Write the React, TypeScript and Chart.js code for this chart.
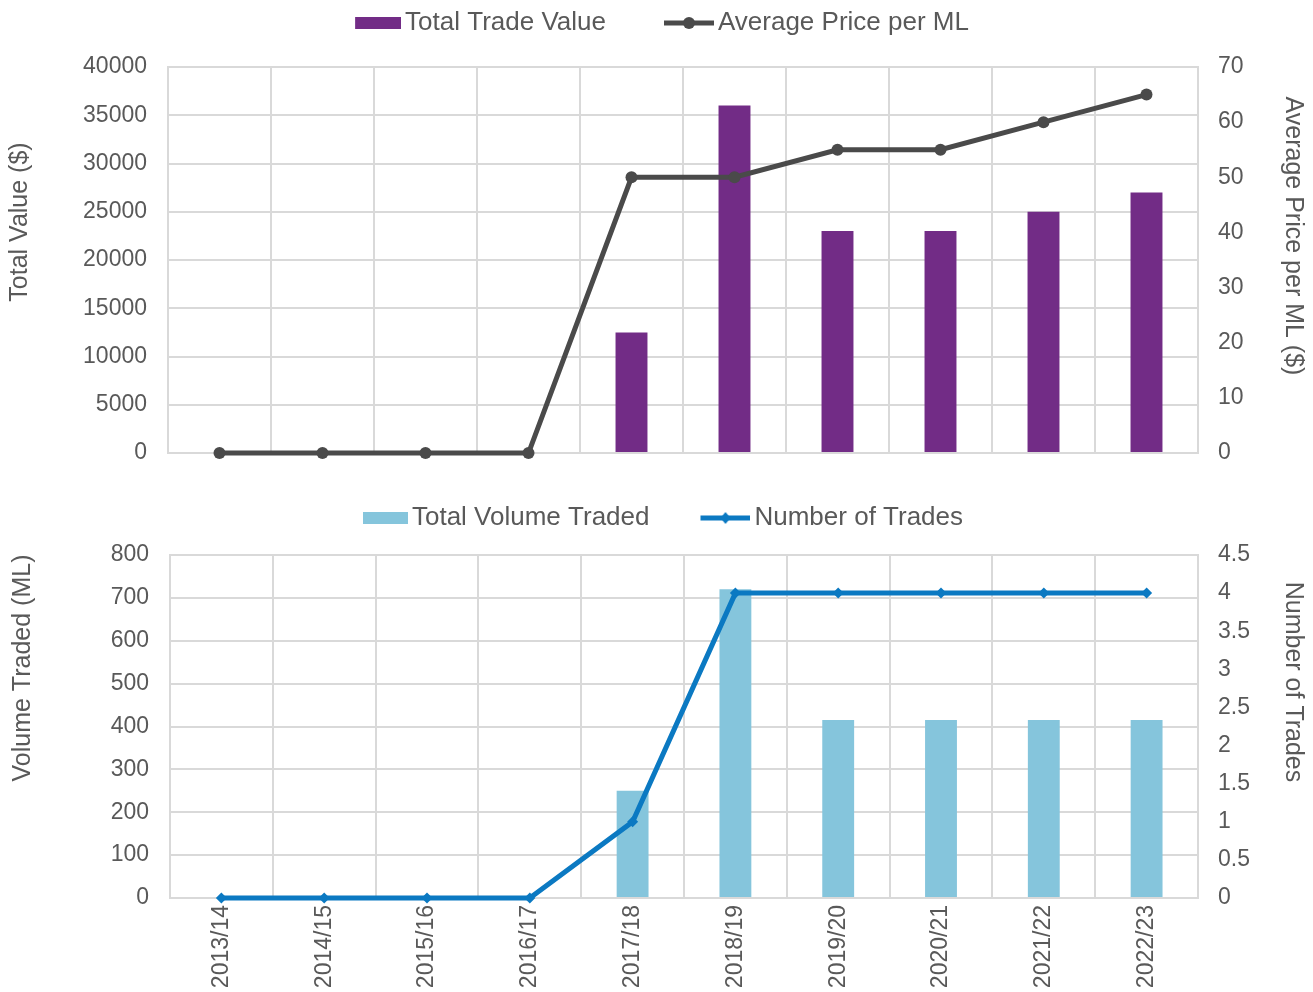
import React, { useEffect, useRef } from 'react';
import { Chart, registerables } from 'chart.js';

Chart.register(...registerables);

// ---------- data ----------
const seasons = ['2013/14', '2014/15', '2015/16', '2016/17', '2017/18', '2018/19', '2019/20', '2020/21', '2021/22', '2022/23'];
const totalTradeValue = [0, 0, 0, 0, 12500, 36000, 23000, 23000, 25000, 27000];
const avgPricePerML = [0, 0, 0, 0, 50, 50, 55, 55, 60, 65];
const totalVolumeTraded = [0, 0, 0, 0, 250, 720, 415, 415, 415, 415];
const numberOfTrades = [0, 0, 0, 0, 1, 4, 4, 4, 4, 4];

const valueTicks = { min: 0, max: 40000, step: 5000 };
const priceTicks = { min: 0, max: 70, step: 10 };
const volumeTicks = { min: 0, max: 800, step: 100 };
const tradesTicks = { min: 0, max: 4.5, step: 0.5 };

const topLegendLabels = ['Total Trade Value', 'Average Price per ML'];
const bottomLegendLabels = ['Total Volume Traded', 'Number of Trades'];
const topAxisTitles = ['Total Value ($)', 'Average Price per ML ($)'];
const bottomAxisTitles = ['Volume Traded (ML)', 'Number of Trades'];

// ---------- style ----------
const FONT = '"Liberation Sans", Arial, Helvetica, sans-serif';
const TEXT = '#595959';
const GRID = '#d9d9d9';
const PURPLE = '#722c86';
const DARK = '#4a4a4a';
const LIGHTBLUE = '#85c5dc';
const BLUE = '#0b79c2';

const W = 1313;
const TOP_H = 480;
const BOT_H = 512;

function makeSwatch(kind: 'bar' | 'line', color: string, B: number, sw: number, marker?: 'circle' | 'diamond') {
  const w = B + 18;
  const h = 26;
  const c = document.createElement('canvas');
  c.width = w;
  c.height = h;
  const g = c.getContext('2d')!;
  g.fillStyle = color;
  g.strokeStyle = color;
  if (kind === 'bar') {
    g.fillRect(w - sw, (h - 12) / 2, sw, 12);
  } else {
    g.lineWidth = 5;
    g.beginPath();
    g.moveTo(w - sw, h / 2);
    g.lineTo(w, h / 2);
    g.stroke();
    const cx = w - sw / 2;
    const cy = h / 2;
    g.beginPath();
    if (marker === 'circle') {
      g.arc(cx, cy, 6, 0, Math.PI * 2);
    } else {
      g.moveTo(cx, cy - 6);
      g.lineTo(cx + 5, cy);
      g.lineTo(cx, cy + 6);
      g.lineTo(cx - 5, cy);
      g.closePath();
    }
    g.fill();
  }
  return c;
}

const axisTitlePlugin = {
  id: 'axisTitles',
  afterDraw(chart: any, _args: any, opts: any) {
    const ctx = chart.ctx;
    const items = (opts && opts.items) || [];
    for (const t of items) {
      ctx.save();
      ctx.translate(t.x, t.y);
      ctx.rotate(t.rot);
      ctx.font = `25px ${FONT}`;
      ctx.fillStyle = TEXT;
      ctx.textAlign = 'center';
      ctx.textBaseline = 'middle';
      ctx.fillText(t.text, 0, 0);
      ctx.restore();
    }
  },
};

const tickFont = { family: FONT, size: 23 };
const fmt = (v: any) => String(v);

function legendOpts(swatches: HTMLCanvasElement[], B: number) {
  return {
    display: true,
    position: 'top' as const,
    align: 'center' as const,
    labels: {
      usePointStyle: true,
      pointStyleWidth: B,
      padding: 8,
      color: TEXT,
      font: { family: FONT, size: 26 },
      generateLabels: (chart: any) =>
        chart.data.datasets.map((ds: any, i: number) => ({
          text: ds.label,
          pointStyle: swatches[i],
          fillStyle: 'transparent',
          strokeStyle: 'transparent',
          lineWidth: 0,
          hidden: false,
          datasetIndex: i,
          fontColor: TEXT,
        })),
    },
  };
}

const noOverhang = (width: number) => (s: any) => {
  s.width = width;
  s.paddingTop = 0;
  s.paddingBottom = 0;
};

export default function App() {
  const topRef = useRef<HTMLCanvasElement>(null);
  const botRef = useRef<HTMLCanvasElement>(null);

  useEffect(() => {
    const topB = 91;
    const botB = 84;
    const topSw = [makeSwatch('bar', PURPLE, topB, 46), makeSwatch('line', DARK, topB, 50, 'circle')];
    const botSw = [makeSwatch('bar', LIGHTBLUE, botB, 45), makeSwatch('line', BLUE, botB, 50, 'diamond')];

    const top = new Chart(topRef.current!, {
      type: 'bar',
      data: {
        labels: seasons,
        datasets: [
          {
            type: 'bar',
            label: topLegendLabels[0],
            data: totalTradeValue,
            backgroundColor: PURPLE,
            yAxisID: 'y',
            order: 2,
            barPercentage: 0.31,
            categoryPercentage: 1,
          },
          {
            type: 'line',
            label: topLegendLabels[1],
            data: avgPricePerML,
            borderColor: DARK,
            backgroundColor: DARK,
            borderWidth: 5,
            pointRadius: 6,
            pointStyle: 'circle',
            pointBackgroundColor: DARK,
            pointBorderWidth: 0,
            tension: 0,
            yAxisID: 'y1',
            order: 1,
            clip: false,
          } as any,
        ],
      },
      options: {
        responsive: false,
        animation: false,
        events: [],
        layout: { padding: { top: 2, left: 0, right: 43, bottom: 0 } },
        plugins: {
          legend: legendOpts(topSw, topB) as any,
          tooltip: { enabled: false },
          axisTitles: {
            items: [
              { text: topAxisTitles[0], x: 20, y: 222, rot: -Math.PI / 2 },
              { text: topAxisTitles[1], x: 1293, y: 236, rot: Math.PI / 2 },
            ],
          },
        } as any,
        scales: {
          x: {
            type: 'category',
            position: 'bottom',
            offset: true,
            grid: { color: GRID, lineWidth: 2, drawTicks: false, offset: true },
            border: { color: GRID, width: 2 },
            ticks: { display: false },
            afterFit: (s: any) => { s.height = 27; },
          },
          spacer: {
            type: 'category',
            position: 'top',
            display: true,
            grid: { display: false, drawTicks: false },
            border: { display: false },
            ticks: { display: false },
            afterFit: (s: any) => { s.height = 21; },
          },
          y: {
            type: 'linear',
            position: 'left',
            min: valueTicks.min,
            max: valueTicks.max,
            ticks: { stepSize: valueTicks.step, color: TEXT, font: tickFont, padding: 21, callback: fmt },
            grid: { color: GRID, lineWidth: 2, drawTicks: false },
            border: { color: GRID, width: 2 },
            afterFit: noOverhang(168),
          },
          y1: {
            type: 'linear',
            position: 'right',
            min: priceTicks.min,
            max: priceTicks.max,
            ticks: { stepSize: priceTicks.step, color: TEXT, font: tickFont, padding: 20, callback: fmt },
            grid: { drawOnChartArea: false, drawTicks: false },
            border: { color: GRID, width: 2 },
            afterFit: noOverhang(72),
          },
        } as any,
      },
      plugins: [axisTitlePlugin as any],
    });

    const bot = new Chart(botRef.current!, {
      type: 'bar',
      data: {
        labels: seasons,
        datasets: [
          {
            type: 'bar',
            label: bottomLegendLabels[0],
            data: totalVolumeTraded,
            backgroundColor: LIGHTBLUE,
            yAxisID: 'y',
            order: 2,
            barPercentage: 0.31,
            categoryPercentage: 1,
          },
          {
            type: 'line',
            label: bottomLegendLabels[1],
            data: numberOfTrades,
            borderColor: BLUE,
            backgroundColor: BLUE,
            borderWidth: 5,
            pointRadius: 5.5,
            pointStyle: 'rectRot',
            pointBackgroundColor: BLUE,
            pointBorderWidth: 0,
            tension: 0,
            yAxisID: 'y1',
            order: 1,
            clip: false,
          } as any,
        ],
      },
      options: {
        responsive: false,
        animation: false,
        events: [],
        layout: { padding: { top: 17, left: 0, right: 35, bottom: 0 } },
        plugins: {
          legend: legendOpts(botSw, botB) as any,
          tooltip: { enabled: false },
          axisTitles: {
            items: [
              { text: bottomAxisTitles[0], x: 23, y: 188, rot: -Math.PI / 2 },
              { text: bottomAxisTitles[1], x: 1293, y: 202, rot: Math.PI / 2 },
            ],
          },
        } as any,
        scales: {
          x: {
            type: 'category',
            position: 'bottom',
            offset: true,
            grid: { color: GRID, lineWidth: 2, drawTicks: false, offset: true },
            border: { color: GRID, width: 2 },
            ticks: { color: TEXT, font: tickFont, padding: 7, minRotation: 90, maxRotation: 90, autoSkip: false },
            afterFit: (s: any) => { s.height = 94; },
          },
          spacer: {
            type: 'category',
            position: 'top',
            display: true,
            grid: { display: false, drawTicks: false },
            border: { display: false },
            ticks: { display: false },
            afterFit: (s: any) => { s.height = 14; },
          },
          y: {
            type: 'linear',
            position: 'left',
            min: volumeTicks.min,
            max: volumeTicks.max,
            ticks: { stepSize: volumeTicks.step, color: TEXT, font: tickFont, padding: 21, callback: fmt },
            grid: { color: GRID, lineWidth: 2, drawTicks: false },
            border: { color: GRID, width: 2 },
            afterFit: noOverhang(170),
          },
          y1: {
            type: 'linear',
            position: 'right',
            min: tradesTicks.min,
            max: tradesTicks.max,
            ticks: { stepSize: tradesTicks.step, color: TEXT, font: tickFont, padding: 20, callback: fmt },
            grid: { drawOnChartArea: false, drawTicks: false },
            border: { color: GRID, width: 2 },
            afterFit: noOverhang(80),
          },
        } as any,
      },
      plugins: [axisTitlePlugin as any],
    });

    return () => {
      top.destroy();
      bot.destroy();
    };
  }, []);

  return (
    <div style={{ position: 'absolute', left: 0, top: 0, width: W, height: TOP_H + BOT_H, background: '#ffffff' }}>
      <canvas ref={topRef} width={W} height={TOP_H} style={{ display: 'block', position: 'absolute', left: 0, top: 0 }} />
      <canvas ref={botRef} width={W} height={BOT_H} style={{ display: 'block', position: 'absolute', left: 0, top: TOP_H }} />
    </div>
  );
}
